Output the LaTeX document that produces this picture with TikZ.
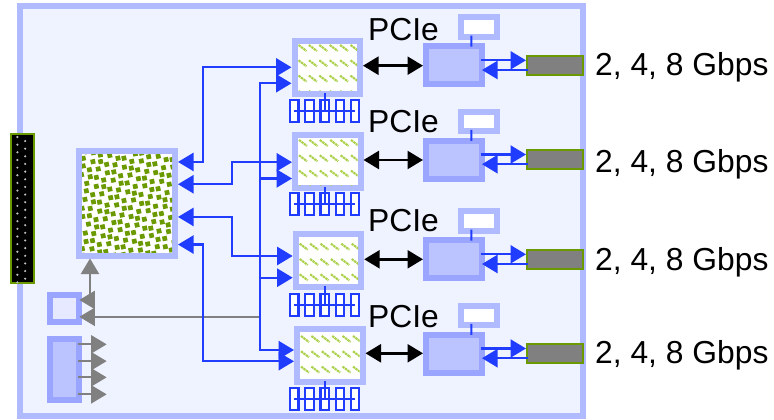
\documentclass[tikz,border=0pt]{standalone}
\usepackage{fontspec}
\setmainfont{Liberation Sans}
\usetikzlibrary{arrows.meta}
\definecolor{panel}{HTML}{EFF2FF}
\definecolor{frameb}{HTML}{B0BAFF}
\definecolor{deepb}{HTML}{9AA5FF}
\definecolor{softb}{HTML}{BCC4FF}
\definecolor{paleb}{HTML}{E6E9FF}
\definecolor{wire}{HTML}{1F3CFF}
\definecolor{leaf}{HTML}{6A9A00}
\definecolor{hatch}{HTML}{ABD04A}
\definecolor{midgray}{HTML}{808080}
\newcommand{\boxn}[7]{\node[#2,line width=#7,minimum width={(#5)-(#3)-#7},minimum height={(#6)-(#4)-#7}] (#1) at ({((#3)+(#5))/2},{((#4)+(#6))/2}) {};}
\tikzset{
  plainbox/.style={rectangle,inner sep=0pt,draw=frameb,fill=white},
  ctrlbox/.style={rectangle,inner sep=0pt,draw=deepb,fill=softb},
  panelbox/.style={rectangle,inner sep=0pt,draw=frameb,fill=panel},
  palebox/.style={rectangle,inner sep=0pt,draw=deepb,fill=paleb},
  barbox/.style={rectangle,inner sep=0pt,draw=leaf,fill=midgray},
  portbox/.style={rectangle,inner sep=0pt,draw=leaf,fill=black},
  memcell/.style={rectangle,inner sep=0pt,draw=wire,fill=white},
  bigtip/.tip={Triangle[length=15.5pt,width=18pt]},
  bluewire/.style={draw=wire,line width=2.3pt},
  blueone/.style={bluewire,-{bigtip}},
  bluetwo/.style={bluewire,{bigtip}-{bigtip}},
  blackwire/.style={draw=black,line width=2.5pt,{bigtip}-{bigtip}},
  greyone/.style={draw=midgray,line width=2pt,-{bigtip}},
  greytwo/.style={draw=midgray,line width=2pt,{bigtip}-{bigtip}},
  biglabel/.style={anchor=base west,inner sep=0pt,font=\fontsize{31.8pt}{32pt}\selectfont},
}
\begin{document}
\begin{tikzpicture}[x=1pt,y=-1pt]
\useasboundingbox (0,0) rectangle (774,420);
\fill[white] (0,0) rectangle (774,420);
\boxn{panelframe}{panelbox}{17}{3.2}{586}{419}{6}
% backplane connector
\boxn{port}{portbox}{10}{133.3}{34.7}{284.3}{2}
\begin{scope}
\clip (11,134.3) rectangle (33.7,283.3);
\foreach \k in {0,...,19}{
  \fill[white!75!black] (17.4,{137+\k*7.65}) circle (1.2);
  \fill[white!75!black] (25.2,{141+\k*7.65}) circle (1.2);
}
\end{scope}
% main device
\boxn{big}{plainbox}{76}{148}{178}{258.5}{6}
\begin{scope}
\clip (82,154) rectangle (172,252.5);
\foreach \a in {-4,...,14}{
  \foreach \b in {-2,...,15}{
    \pgfmathsetmacro{\px}{78+\a*7.8-\b*1.5+1.2*sin(\a*97+\b*211)}
    \pgfmathsetmacro{\py}{150+\a*1.5+\b*7.8+1.2*sin(\a*173+\b*59)}
    \fill[leaf] (\px+2.8,\py+1.8) -- (\px-1.8,\py+2.8) -- (\px-2.8,\py-1.8) -- (\px+1.8,\py-2.8) -- cycle;
  }
}
\end{scope}
% lower-left devices
\boxn{clk}{palebox}{47.3}{291.7}{82}{325}{6}
\boxn{buf}{ctrlbox}{47.3}{336}{82}{402.7}{6}
% four channels
\foreach \i/\cx/\cy/\ph/\my/\d/\tb/\ay/\bb in {
  1/291.5/38/10/98.7/0/41/65.7/76,
  2/292/132/11/191.7/94.2/132/160/172,
  3/292.7/231/15.7/292.7/194/231/259.3/270.5,
  4/294/326/13/386.7/288.2/327/353.3/363.5}{
  \boxn{chip\i}{plainbox}{\cx}{\cy}{\cx+71.5}{\cy+59}{6}
  \begin{scope}[shift={(\cx,\cy)}]
    \clip (5.7,6) rectangle (65.5,53);
    \foreach \r in {0,...,3}{
      \foreach \h in {-1,...,6}{
        \draw[hatch,line width=2.1pt,dash pattern=on 2.4pt off .7pt]
          ({7+\h*10.4},{\ph+\r*15.3-3}) -- ({15+\h*10.4},{\ph+\r*15.3+3});
      }
    }
  \end{scope}
  \foreach \k in {1,...,5}{
    \boxn{mem\i-\k}{memcell}{289+(\k-1)*15.2}{\my}{299.5+(\k-1)*15.2}{\my+24.6}{2.2}
  }
  \draw[wire,line width=2.2pt] (mem\i-1.center) -- (mem\i-5.center);
  \draw[wire,line width=2.2pt] ([yshift=4pt]chip\i.south -| mem\i-3) -- (mem\i-3.center);
  \boxn{ctrl\i}{ctrlbox}{423}{43.3+\d}{484.7}{87.3+\d}{6}
  \boxn{tag\i}{plainbox}{458}{14.3+\d}{500}{40+\d}{6}
  \boxn{bar\i}{barbox}{526}{55+\d}{584}{76+\d}{2}
  \draw[wire,line width=2pt] ([xshift=-7.7pt,yshift=4.3pt]tag\i.south) -- ([xshift=17.4pt,yshift=-3.4pt]ctrl\i.north);
  \draw[blackwire] (chip\i.east |- 0,\ay) -- (ctrl\i.west |- 0,\ay);
  \draw[blueone] ([xshift=-4pt,yshift=5pt]ctrl\i.east) -- ([yshift=5.2pt]bar\i.west);
  \draw[blueone] ([xshift=2pt,yshift=-4.5pt]bar\i.west) -- ([xshift=-2.7pt,yshift=-4.7pt]ctrl\i.east);
  \node[biglabel] (pcie\i) at (368,\tb) {PCIe};
  \node[biglabel] (rate\i) at (595,\bb) {2, 4, 8 Gbps};
}
% routing columns
\coordinate (busA) at (203.3,0);
\coordinate (busB) at (232,0);
\coordinate (busC) at (260,0);
\coordinate (busG) at (90,0);
% ports on the main device
\coordinate (b1) at ([yshift=41.3pt]big.east);
\coordinate (b2) at ([yshift=19pt]big.east);
\coordinate (b3) at ([yshift=-13.7pt]big.east);
\coordinate (b4) at ([yshift=-41.3pt]big.east);
% ports on the channel chips
\coordinate (c1a) at ([yshift=0.2pt]chip1.west);
\coordinate (c1b) at ([yshift=-15.8pt]chip1.west);
\coordinate (c2a) at ([yshift=-.7pt]chip2.west);
\coordinate (c2b) at ([yshift=-17pt]chip2.west);
\coordinate (c3a) at ([yshift=4.5pt]chip3.west);
\coordinate (c3b) at ([yshift=-17.2pt]chip3.west);
\coordinate (c4a) at ([yshift=5.5pt]chip4.west);
\coordinate (c4b) at ([yshift=-5.8pt]chip4.west);
% grey management lines (under the blue ones)
\coordinate (g1) at ([xshift=-2.7pt,yshift=-8.5pt]clk.east);
\draw[greyone] (busC |- g1) -- (g1);
\coordinate (g0) at ([xshift=-2.7pt,yshift=8.4pt]clk.east);
\draw[greytwo] (g0) -- (g0 -| busG) -- (busG |- big.south);
\foreach \s in {-25,-8.2,8,25}{
  \draw[greyone] ([xshift=-4pt,yshift=\s*-1pt]buf.east) -- ([xshift=24.7pt,yshift=\s*-1pt]buf.east);
}
% blue nets
\draw[bluetwo] (b1) -- (b1 -| busA) -- (c1a -| busA) -- (c1a);
\draw[bluetwo] (b2) -- (b2 -| busB) -- (c2a -| busB) -- (c2a);
\draw[bluetwo] (b3) -- (b3 -| busB) -- (c3a -| busB) -- (c3a);
\draw[bluetwo] (b4) -- (b4 -| busA) -- (c4b -| busA) -- (c4b);
\draw[bluetwo] (c1b) -- (c1b -| busC) -- (c4a -| busC) -- (c4a);
\draw[blueone] (c2b -| busC) -- (c2b);
\draw[blueone] (c3b -| busC) -- (c3b);
\end{tikzpicture}
\end{document}
